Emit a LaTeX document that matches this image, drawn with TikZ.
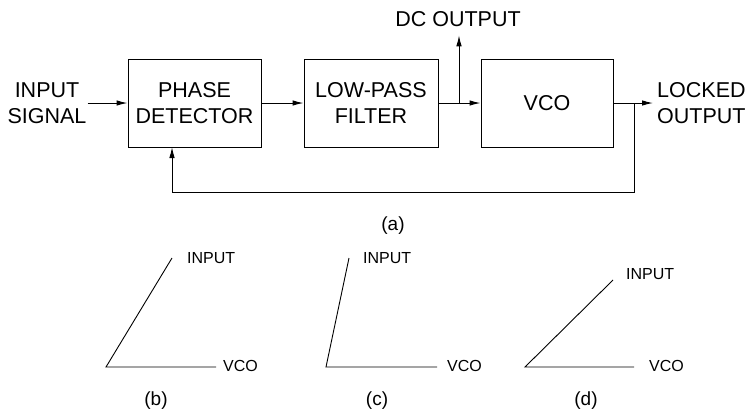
\documentclass[tikz,border=0pt]{standalone}
\usepackage{fontspec}
\setmainfont{Liberation Sans}
\usetikzlibrary{arrows.meta}

\tikzset{
  block/.style={draw, line width=1pt, minimum width=133pt, minimum height=88pt,
    align=center, inner sep=0pt, font=\fontsize{21.5}{26}\selectfont},
  bigtext/.style={align=center, inner sep=1pt, font=\fontsize{21.5}{25.5}\selectfont},
  phasor/.style={anchor=west, inner sep=1pt, font=\fontsize{16}{18}\selectfont},
  sublabel/.style={inner sep=0pt, font=\fontsize{19}{21}\selectfont},
  sig/.style={->, line width=1pt},
  leg/.style={line width=0.9pt},
}

\begin{document}
\begin{tikzpicture}[x=1pt, y=-1pt, >={Latex[length=11pt,width=5.5pt]}]
  \useasboundingbox (0,0) rectangle (749,413);

  % the loop
  \node[block] (pd) at (194.5,103) {PHASE\\DETECTOR};
  \node[block, minimum width=134pt] (lpf) at (371,103) {LOW-PASS\\FILTER};
  \node[block, minimum width=132pt] (vco) at (547,103) {VCO};

  \node[bigtext] (in) at (47,103) {INPUT\\SIGNAL};
  \node[bigtext] (dc) at (458,19.5) {DC OUTPUT};
  \node[bigtext, anchor=west, align=left, inner xsep=4pt] (lock) at (653,103) {LOCKED\\OUTPUT};

  \coordinate (dctap) at (459,103);
  \coordinate (fbtap) at (634,103);
  \coordinate (fbcorner) at (634,192);
  \coordinate (pdin) at (172,147);

  \draw[sig] (in) -- (pd);
  \draw[sig] (pd) -- (lpf);
  \draw[sig] (lpf) -- (vco);
  \draw[sig, shorten >=7pt] (dctap) -- (dctap |- dc.south);
  \draw[sig] (vco) -- (lock);
  \draw[sig] (fbtap) -- (fbcorner) -| (pdin);

  \node[sublabel] (capa) at (393,226) {(a)};

  % phase sketches
  \coordinate (b0) at (106,367);
  \coordinate (b1) at (172,258);
  \coordinate (b2) at (216,367);
  \coordinate (c0) at (326,367);
  \coordinate (c1) at (349,258);
  \coordinate (c2) at (437,367);
  \coordinate (d0) at (525,367);
  \coordinate (d1) at (613,280);
  \coordinate (d2) at (634,367);

  \draw[leg] (b1) -- (b0) -- (b2);
  \draw[leg] (c1) -- (c0) -- (c2);
  \draw[leg] (d1) -- (d0) -- (d2);

  \node[phasor] (bin) at (186,258) {INPUT};
  \node[phasor] (bvco) at (222,366) {VCO};
  \node[phasor] (cin) at (362,258) {INPUT};
  \node[phasor] (cvco) at (446,366) {VCO};
  \node[phasor] (din) at (625,274) {INPUT};
  \node[phasor] (dvco) at (648,366) {VCO};

  \node[sublabel] (capb) at (156,401) {(b)};
  \node[sublabel] (capc) at (377,401) {(c)};
  \node[sublabel] (capd) at (586,401) {(d)};
\end{tikzpicture}
\end{document}
